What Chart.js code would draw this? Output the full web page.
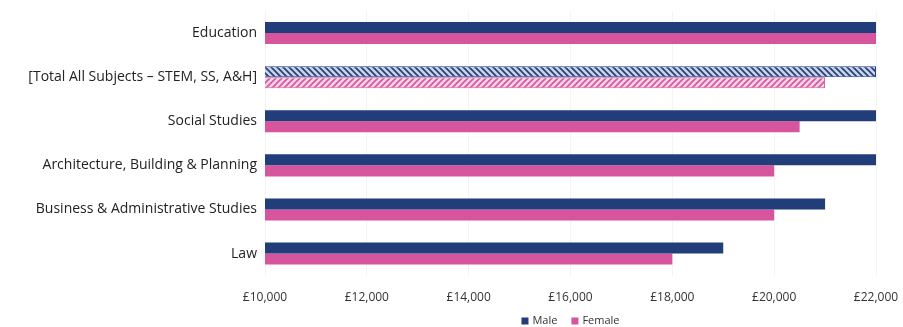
<!DOCTYPE html>
<html>
<head>
<meta charset="utf-8">
<script src="https://cdn.jsdelivr.net/npm/chart.js@4/dist/chart.umd.min.js"></script>
<style>
  html, body { margin: 0; padding: 0; background: #fff; }
  #wrap { width: 903px; height: 327px; }
</style>
</head>
<body>
<div id="wrap"><canvas id="chart-salary"></canvas></div>
<script>
const categories = [
    'Education',
    '[Total All Subjects \u2013 STEM, SS, A&H]',
    'Social Studies',
    'Architecture, Building & Planning',
    'Business & Administrative Studies',
    'Law'
];
const maleValues = [22000, 22000, 22000, 22000, 21000, 19000];
const femaleValues = [22000, 21000, 20500, 20000, 20000, 18000];
const xTicks = [10000, 12000, 14000, 16000, 18000, 20000, 22000];
const totalIndex = 1;   // the "all subjects" row is hatched

const MALE = '#213d7a';
const FEMALE = '#d6559d';
const FONT = 'Open Sans';

// diagonal stripe fill for the totals row
function makeHatch(bg, fg, backslash) {
    var c = document.createElement('canvas');
    c.width = 6;
    c.height = 6;
    var g = c.getContext('2d');
    g.fillStyle = bg;
    g.fillRect(0, 0, 6, 6);
    g.strokeStyle = fg;
    g.lineWidth = 1.6;
    g.beginPath();
    if (backslash) {
        g.moveTo(-1, -1); g.lineTo(7, 7);
        g.moveTo(-4, 2); g.lineTo(2, 8);
        g.moveTo(2, -4); g.lineTo(8, 2);
    } else {
        g.moveTo(-1, 7); g.lineTo(7, -1);
        g.moveTo(-4, 4); g.lineTo(4, -4);
        g.moveTo(2, 10); g.lineTo(10, 2);
    }
    g.stroke();
    return g.createPattern(c, 'repeat');
}

const maleHatch = makeHatch('#c9d2e6', MALE, true);
const femaleHatch = makeHatch('#f7d3e6', FEMALE, false);

// legend drawn under the plot, centred on the chart area
const bottomLegend = {
    id: 'bottomLegend',
    afterDraw(chart) {
        const ctx = chart.ctx;
        const area = chart.chartArea;
        const items = [['Male', MALE], ['Female', FEMALE]];
        ctx.save();
        ctx.font = '11px "' + FONT + '"';
        ctx.textBaseline = 'middle';
        const box = 7, gap = 4, spacing = 14;
        let total = 0;
        items.forEach(function (it) { total += box + gap + ctx.measureText(it[0]).width; });
        total += spacing * (items.length - 1);
        let x = (area.left + area.right) / 2 - total / 2;
        const y = 321;
        items.forEach(function (it) {
            ctx.fillStyle = it[1];
            ctx.fillRect(x, y - box / 2, box, box);
            x += box + gap;
            ctx.fillStyle = '#333';
            ctx.fillText(it[0], x, y);
            x += ctx.measureText(it[0]).width + spacing;
        });
        ctx.restore();
    }
};

const data = {
    labels: categories,
    datasets: [
        {
            label: 'Male',
            data: maleValues,
            backgroundColor: function (c) { return c.dataIndex === totalIndex ? maleHatch : MALE; },
            borderColor: MALE,
            borderWidth: function (c) { return c.dataIndex === totalIndex ? 1 : 0; }
        },
        {
            label: 'Female',
            data: femaleValues,
            backgroundColor: function (c) { return c.dataIndex === totalIndex ? femaleHatch : FEMALE; },
            borderColor: FEMALE,
            borderWidth: function (c) { return c.dataIndex === totalIndex ? 1 : 0; }
        }
    ]
};

const options = {
    indexAxis: 'y',
    responsive: true,
    maintainAspectRatio: false,
    animation: false,
    datasets: {
        bar: {
            categoryPercentage: 0.5,
            barPercentage: 1.0
        }
    },
    layout: {
        padding: { top: 11, right: 27, bottom: 7, left: 0 }
    },
    scales: {
        x: {
            min: 10000,
            max: 22000,
            afterBuildTicks: function (scale) {
                scale.ticks = xTicks.map(function (v) { return { value: v }; });
            },
            afterFit: function (scale) {
                // layout padding alone sets the plot edges
                scale.paddingLeft = 0;
                scale.paddingRight = 0;
            },
            grid: { color: '#f4f4f4', drawTicks: false },
            border: { display: false },
            ticks: {
                padding: 15,
                maxRotation: 0,
                color: '#333',
                font: { family: FONT, size: 12 },
                callback: function (value) {
                    return '\u00a3' + Number(value).toLocaleString('en-GB');
                }
            }
        },
        y: {
            afterFit: function (scale) {
                scale.width = 265;
                scale.paddingTop = 0;
                scale.paddingBottom = 0;
            },
            grid: { display: false, drawTicks: false },
            border: { display: false },
            ticks: {
                padding: 8,
                color: '#222',
                font: { family: FONT, size: 14 }
            }
        }
    },
    plugins: {
        legend: { display: false },
        tooltip: { enabled: false }
    }
};

var ctx = document.getElementById('chart-salary').getContext('2d');
var chart = new Chart(ctx, {
    type: 'bar',
    data: data,
    options: options,
    plugins: [bottomLegend]
});
</script>
</body>
</html>
